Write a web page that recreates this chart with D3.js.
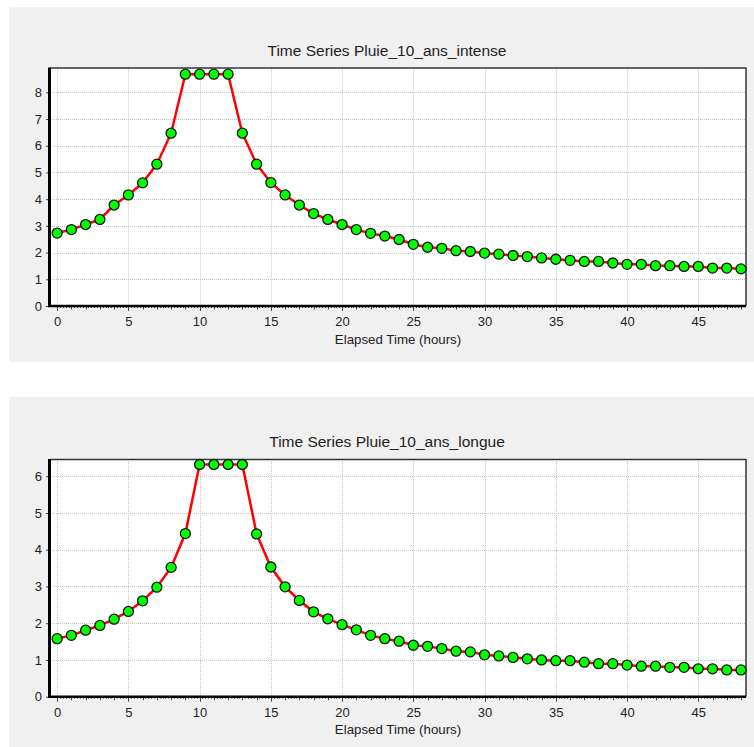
<!DOCTYPE html>
<html>
<head>
<meta charset="utf-8">
<script src="https://cdn.jsdelivr.net/npm/d3@7"></script>
<style>
  body { margin: 0; background: #fff; }
  svg text { font-family: "Liberation Sans", Arial, sans-serif; fill: #222; }
</style>
</head>
<body>
<div id="chart"></div>
<script>
// elapsed hours, one value per hour
var hours = [0,1,2,3,4,5,6,7,8,9,10,11,12,13,14,15,16,17,18,19,20,21,22,23,24,
  25,26,27,28,29,30,31,32,33,34,35,36,37,38,39,40,41,42,43,44,45,46,47,48];

var intense = [2.73,2.86,3.05,3.24,3.78,4.16,4.61,5.31,6.47,8.68,8.68,8.68,8.68,6.47,5.31,4.62,
  4.16,3.78,3.46,3.24,3.05,2.86,2.72,2.62,2.49,2.31,2.20,2.16,2.07,2.04,1.98,1.94,1.89,1.85,
  1.80,1.75,1.71,1.67,1.67,1.61,1.56,1.56,1.51,1.51,1.48,1.48,1.42,1.42,1.39];

var longue = [1.58,1.67,1.81,1.94,2.11,2.32,2.61,2.98,3.52,4.44,6.32,6.32,6.32,6.32,4.43,3.53,
  2.99,2.62,2.31,2.12,1.96,1.82,1.67,1.58,1.51,1.40,1.37,1.31,1.24,1.22,1.14,1.11,1.07,1.03,
  1.00,0.98,0.98,0.94,0.90,0.90,0.86,0.83,0.83,0.80,0.80,0.76,0.76,0.73,0.73];

var xTicks = [0,5,10,15,20,25,30,35,40,45];
var yTicksIntense = [0,1,2,3,4,5,6,7,8];
var yTicksLongue = [0,1,2,3,4,5,6];

var W = 754, H = 747;
var svg = d3.select("#chart").append("svg").attr("width", W).attr("height", H);

function drawPanel(o) {
  var g = svg.append("g").attr("transform", "translate(0," + o.top + ")");

  g.append("rect").attr("x", 9).attr("y", 0).attr("width", 745).attr("height", o.h)
    .attr("fill", "#f0f0f0");

  var left = 50, right = 746, pTop = o.plotTop, pBot = o.plotBottom;

  var x = d3.scaleLinear().domain([-0.5, 48.35]).range([left, right]);
  var y = d3.scaleLinear().domain([0, o.yMax]).range([pBot, pTop]);

  g.append("rect").attr("x", left).attr("y", pTop).attr("width", right - left).attr("height", pBot - pTop)
    .attr("fill", "#fff");

  // grid
  g.append("g").selectAll("line").data(xTicks).enter().append("line")
    .attr("x1", d => Math.round(x(d)) + 0.5).attr("x2", d => Math.round(x(d)) + 0.5)
    .attr("y1", pTop).attr("y2", pBot)
    .attr("stroke", "#c4c4c4").attr("stroke-dasharray", "1,1");
  g.append("g").selectAll("line").data(o.yTicks.slice(1)).enter().append("line")
    .attr("y1", d => Math.round(y(d)) + 0.5).attr("y2", d => Math.round(y(d)) + 0.5)
    .attr("x1", left).attr("x2", right)
    .attr("stroke", "#c4c4c4").attr("stroke-dasharray", "1,1");

  // minor ticks on the time axis
  var fine = d3.range(0, 241).map(d => d / 5);
  g.append("g").selectAll("line").data(fine).enter().append("line")
    .attr("x1", d => Math.round(x(d)) + 0.5).attr("x2", d => Math.round(x(d)) + 0.5)
    .attr("y1", pBot).attr("y2", d => pBot + (d % 5 === 0 ? 5 : (Number.isInteger(d) ? 3.5 : 2)))
    .attr("stroke", "#444").attr("stroke-width", 1);

  var xAxis = d3.axisBottom(x).tickValues(xTicks).tickSize(0).tickPadding(11);
  g.append("g").attr("transform", "translate(0," + pBot + ")").call(xAxis)
    .call(s => s.select(".domain").remove())
    .selectAll("text").attr("font-size", 13).style("font-family", "Liberation Sans").attr("fill", "#1e2235");

  var yAxis = d3.axisLeft(y).tickValues(o.yTicks).tickFormat(d3.format("d")).tickSize(3).tickPadding(4);
  g.append("g").attr("transform", "translate(" + (left - 1) + ",0)").call(yAxis)
    .call(s => s.select(".domain").remove())
    .call(s => s.selectAll("line").attr("stroke", "#444"))
    .selectAll("text").attr("font-size", 13).style("font-family", "Liberation Sans").attr("fill", "#1e2235");

  // frame: dark top/right, heavy left/bottom
  g.append("line").attr("x1", left).attr("x2", right).attr("y1", pTop + 0.5).attr("y2", pTop + 0.5)
    .attr("stroke", "#333").attr("stroke-width", 1.5);
  g.append("line").attr("x1", right).attr("x2", right).attr("y1", pTop).attr("y2", pBot)
    .attr("stroke", "#333").attr("stroke-width", 1.5);
  g.append("line").attr("x1", left - 0.5).attr("x2", left - 0.5).attr("y1", pTop).attr("y2", pBot + 1)
    .attr("stroke", "#000").attr("stroke-width", 3);
  g.append("line").attr("x1", left - 2).attr("x2", right).attr("y1", pBot).attr("y2", pBot)
    .attr("stroke", "#000").attr("stroke-width", 2.5);

  var line = d3.line().x((d, i) => x(hours[i])).y(d => y(d));
  g.append("path").datum(o.values).attr("d", line)
    .attr("fill", "none").attr("stroke", "#ff0000").attr("stroke-width", 2.5);

  g.append("g").selectAll("circle").data(o.values).enter().append("circle")
    .attr("cx", (d, i) => x(hours[i])).attr("cy", d => y(d)).attr("r", 5)
    .attr("fill", "#00ff00").attr("stroke", "#111").attr("stroke-width", 1.3);

  g.append("text").attr("x", 387).attr("y", o.titleY).attr("text-anchor", "middle")
    .attr("dominant-baseline", "middle").attr("font-size", 15.5).text(o.title);
  g.append("text").attr("x", (left + right) / 2).attr("y", pBot + 34).attr("text-anchor", "middle")
    .attr("dominant-baseline", "middle").attr("font-size", 13.3).text("Elapsed Time (hours)");
}

drawPanel({ top: 7, h: 355, plotTop: 60.5, plotBottom: 299, yMax: 8.93, yTicks: yTicksIntense,
  values: intense, title: "Time Series Pluie_10_ans_intense", titleY: 45 });
drawPanel({ top: 397, h: 350, plotTop: 62, plotBottom: 299.7, yMax: 6.47, yTicks: yTicksLongue,
  values: longue, title: "Time Series Pluie_10_ans_longue", titleY: 46 });
</script>
</body>
</html>
